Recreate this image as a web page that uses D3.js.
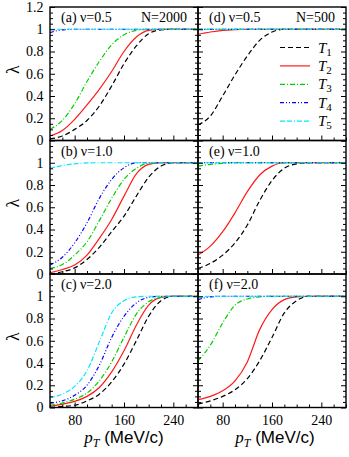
<!DOCTYPE html>
<html>
<head>
<meta charset="utf-8">
<script src="https://cdn.jsdelivr.net/npm/d3@7"></script>
<style>
  body { margin: 0; background: #fff; }
  svg { display: block; }
  .tick text { font-family: "Liberation Serif", "Times New Roman", serif; font-size: 14px; fill: #000; }
  .tick line { stroke: #000; stroke-width: 1; }
</style>
</head>
<body>
<div id="chart"></div>
<script>
// transverse momentum grid (MeV/c)
var ptGrid = [40, 60, 80, 100, 120, 140, 160, 180, 200, 220, 240, 260, 280];

var seriesNames = ["T1", "T2", "T3", "T4", "T5"];
var panelLabels = ["(a) ν=0.5", "(b) ν=1.0", "(c) ν=2.0", "(d) ν=0.5", "(e) ν=1.0", "(f) ν=2.0"];
var sizeLabels = ["N=2000", "N=500"];
var xTickLabels = [80, 160, 240];
var yTickLabels = [0, 0.2, 0.4, 0.6, 0.8, 1, 1.2];

// lambda values, one row per T1..T5
var lamA = [
  [0.015, 0.04, 0.10, 0.18, 0.31, 0.49, 0.69, 0.85, 0.96, 0.995, 1, 1, 1],
  [0.04, 0.09, 0.19, 0.32, 0.46, 0.62, 0.80, 0.93, 0.99, 1, 1, 1, 1],
  [0.10, 0.18, 0.33, 0.53, 0.71, 0.86, 0.95, 0.99, 1, 1, 1, 1, 1],
  [0.97, 0.995, 1, 1, 1, 1, 1, 1, 1, 1, 1, 1, 1],
  [1, 1, 1, 1, 1, 1, 1, 1, 1, 1, 1, 1, 1]
];
var lamB = [
  [0, 0.02, 0.055, 0.13, 0.24, 0.38, 0.52, 0.70, 0.87, 0.97, 1, 1, 1],
  [0.01, 0.04, 0.08, 0.17, 0.32, 0.49, 0.70, 0.90, 0.985, 1, 1, 1, 1],
  [0.05, 0.085, 0.17, 0.29, 0.48, 0.68, 0.85, 0.95, 0.995, 1, 1, 1, 1],
  [0.08, 0.15, 0.28, 0.46, 0.68, 0.85, 0.955, 1, 1, 1, 1, 1, 1],
  [0.95, 0.975, 0.99, 0.998, 1, 1, 1, 1, 1, 1, 1, 1, 1]
];
var lamC = [
  [0, 0.01, 0.02, 0.06, 0.12, 0.23, 0.39, 0.60, 0.82, 0.96, 1, 1, 1],
  [0.01, 0.03, 0.055, 0.10, 0.18, 0.32, 0.51, 0.74, 0.92, 0.99, 1, 1, 1],
  [0.02, 0.04, 0.075, 0.13, 0.24, 0.41, 0.63, 0.84, 0.95, 0.99, 1, 1, 1],
  [0.04, 0.06, 0.11, 0.20, 0.38, 0.63, 0.82, 0.94, 0.99, 1, 1, 1, 1],
  [0.09, 0.12, 0.19, 0.33, 0.59, 0.85, 0.96, 0.995, 1, 1, 1, 1, 1]
];
var lamD = [
  [0.14, 0.22, 0.40, 0.59, 0.76, 0.90, 0.975, 1, 1, 1, 1, 1, 1],
  [0.955, 0.975, 0.99, 0.997, 1, 1, 1, 1, 1, 1, 1, 1, 1],
  [1, 1, 1, 1, 1, 1, 1, 1, 1, 1, 1, 1, 1],
  [1, 1, 1, 1, 1, 1, 1, 1, 1, 1, 1, 1, 1],
  [1, 1, 1, 1, 1, 1, 1, 1, 1, 1, 1, 1, 1]
];
var lamE = [
  [0.05, 0.095, 0.17, 0.28, 0.44, 0.66, 0.84, 0.95, 0.99, 1, 1, 1, 1],
  [0.17, 0.25, 0.38, 0.55, 0.74, 0.89, 0.97, 1, 1, 1, 1, 1, 1],
  [0.97, 0.985, 0.995, 1, 1, 1, 1, 1, 1, 1, 1, 1, 1],
  [1, 1, 1, 1, 1, 1, 1, 1, 1, 1, 1, 1, 1],
  [1, 1, 1, 1, 1, 1, 1, 1, 1, 1, 1, 1, 1]
];
var lamF = [
  [0.03, 0.06, 0.10, 0.16, 0.26, 0.42, 0.63, 0.85, 0.96, 1, 1, 1, 1],
  [0.07, 0.10, 0.15, 0.24, 0.41, 0.70, 0.88, 0.97, 0.995, 1, 1, 1, 1],
  [0.42, 0.56, 0.76, 0.92, 0.975, 0.995, 1, 1, 1, 1, 1, 1, 1],
  [0.97, 0.995, 1, 1, 1, 1, 1, 1, 1, 1, 1, 1, 1],
  [0.985, 1, 1, 1, 1, 1, 1, 1, 1, 1, 1, 1, 1]
];
var panelData = [lamA, lamB, lamC, lamD, lamE, lamF];

// line styles for T1..T5
var colors = ["#000000", "#ff1a1a", "#00d000", "#0000ff", "#00e8ff"];
var dashes = ["5,3", null, "5,2,1,2", "4,2,1,2,1,2", "5,2,5,2,1,2"];

var svgWidth = 349;
var svgHeight = 457;

// panel geometry
var colX = [50, 198];
var rowY = [7, 140.5, 274];
var panelW = 148;
var panelH = 133.5;

var svg = d3.select("#chart")
  .append("svg")
  .attr("width", svgWidth)
  .attr("height", svgHeight);

var xScale = d3.scaleLinear().domain([40, 280]).range([0, panelW]);
var yScale = d3.scaleLinear().domain([0, 1.2]).range([panelH, 0]);

var xMinor = d3.range(40, 281, 20).filter(d => xTickLabels.indexOf(d) < 0);
var yMinor = d3.range(0, 1.21, 0.05).filter(d => Math.abs(Math.round(d * 5) - d * 5) > 1e-6);

var line = d3.line()
  .x((d, i) => xScale(ptGrid[i]))
  .y(d => yScale(d))
  .curve(d3.curveMonotoneX);

panelData.forEach(function(lams, p) {
  var col = Math.floor(p / 3);
  var row = p % 3;
  var g = svg.append("g")
    .attr("transform", `translate(${colX[col]}, ${rowY[row]})`);

  g.append("clipPath")
    .attr("id", "clip" + p)
    .append("rect")
    .attr("width", panelW)
    .attr("height", panelH);

  // curves
  var curves = g.append("g").attr("clip-path", `url(#clip${p})`);
  lams.forEach(function(vals, s) {
    curves.append("path")
      .datum(vals)
      .attr("d", line)
      .attr("fill", "none")
      .attr("stroke", colors[s])
      .attr("stroke-width", 1.2)
      .attr("stroke-dasharray", dashes[s]);
  });

  // bottom ticks (inward)
  var showX = row == 2;
  g.append("g")
    .attr("transform", `translate(0, ${panelH})`)
    .call(d3.axisBottom(xScale).tickValues(xTickLabels).tickSize(-5).tickPadding(7.5)
      .tickFormat(showX ? d3.format("d") : ""))
    .call(a => a.select(".domain").remove());
  g.append("g")
    .attr("transform", `translate(0, ${panelH})`)
    .call(d3.axisBottom(xScale).tickValues(xMinor).tickSize(-3).tickFormat(""))
    .call(a => a.select(".domain").remove());

  // left ticks
  var majorY = row == 0 ? yTickLabels : yTickLabels.slice(0, 6);
  g.append("g")
    .call(d3.axisLeft(yScale).tickValues(majorY).tickSize(-5).tickPadding(6.5)
      .tickFormat(col == 0 ? d3.format("~g") : ""))
    .call(a => a.select(".domain").remove());
  g.append("g")
    .call(d3.axisLeft(yScale).tickValues(yMinor).tickSize(-3).tickFormat(""))
    .call(a => a.select(".domain").remove());

  // right ticks
  g.append("g")
    .attr("transform", `translate(${panelW}, 0)`)
    .call(d3.axisRight(yScale).tickValues(yTickLabels).tickSize(-5).tickFormat(""))
    .call(a => a.select(".domain").remove());
  g.append("g")
    .attr("transform", `translate(${panelW}, 0)`)
    .call(d3.axisRight(yScale).tickValues(yMinor).tickSize(-3).tickFormat(""))
    .call(a => a.select(".domain").remove());

  // frame
  g.append("rect")
    .attr("width", panelW)
    .attr("height", panelH)
    .attr("fill", "none")
    .attr("stroke", "#000")
    .attr("stroke-width", 1.4);

  // panel label
  g.append("text")
    .attr("x", 11)
    .attr("y", 15)
    .attr("font-family", "Liberation Serif, serif")
    .attr("font-size", 14)
    .text(panelLabels[p]);

  if (row == 0) {
    g.append("text")
      .attr("x", panelW - 11)
      .attr("y", 15)
      .attr("text-anchor", "end")
      .attr("font-family", "Liberation Serif, serif")
      .attr("font-size", 14)
      .text(sizeLabels[col]);
  }

  // y title on the left column
  if (col == 0) {
    svg.append("text")
      .attr("transform", `translate(19, ${rowY[row] + panelH / 2 - 4}) rotate(-90)`)
      .attr("text-anchor", "middle")
      .attr("font-family", "Liberation Serif, serif")
      .attr("font-size", 18)
      .text("λ");
  }

  // x title under bottom row
  if (row == 2) {
    var t = svg.append("text")
      .attr("x", colX[col] + panelW / 2 + (col == 1 ? 3 : 0))
      .attr("y", 443)
      .attr("text-anchor", "middle")
      .attr("font-size", 17);
    t.append("tspan").attr("font-family", "Liberation Serif, serif").attr("font-style", "italic").text("p");
    t.append("tspan").attr("font-family", "Liberation Serif, serif").attr("font-style", "italic")
      .attr("font-size", 12).attr("dy", 4).text("T");
    t.append("tspan").attr("font-family", "Liberation Sans, sans-serif").attr("dy", -4).text(" (MeV/c)");
  }
});

// legend in panel (d)
var legend = svg.append("g")
  .attr("transform", `translate(${colX[1]}, ${rowY[0]})`);
seriesNames.forEach(function(name, s) {
  var ly = 40.5 + s * 18.4;
  legend.append("line")
    .attr("x1", 82).attr("x2", 112)
    .attr("y1", ly).attr("y2", ly)
    .attr("stroke", colors[s])
    .attr("stroke-width", 1.2)
    .attr("stroke-dasharray", dashes[s]);
  var lt = legend.append("text")
    .attr("x", 120)
    .attr("y", ly + 5)
    .attr("font-family", "Liberation Serif, serif")
    .attr("font-style", "italic")
    .attr("font-size", 15)
    .text("T");
  lt.append("tspan")
    .attr("font-style", "normal")
    .attr("font-size", 11)
    .attr("dy", 3)
    .text(name.slice(1));
});
</script>
</body>
</html>
